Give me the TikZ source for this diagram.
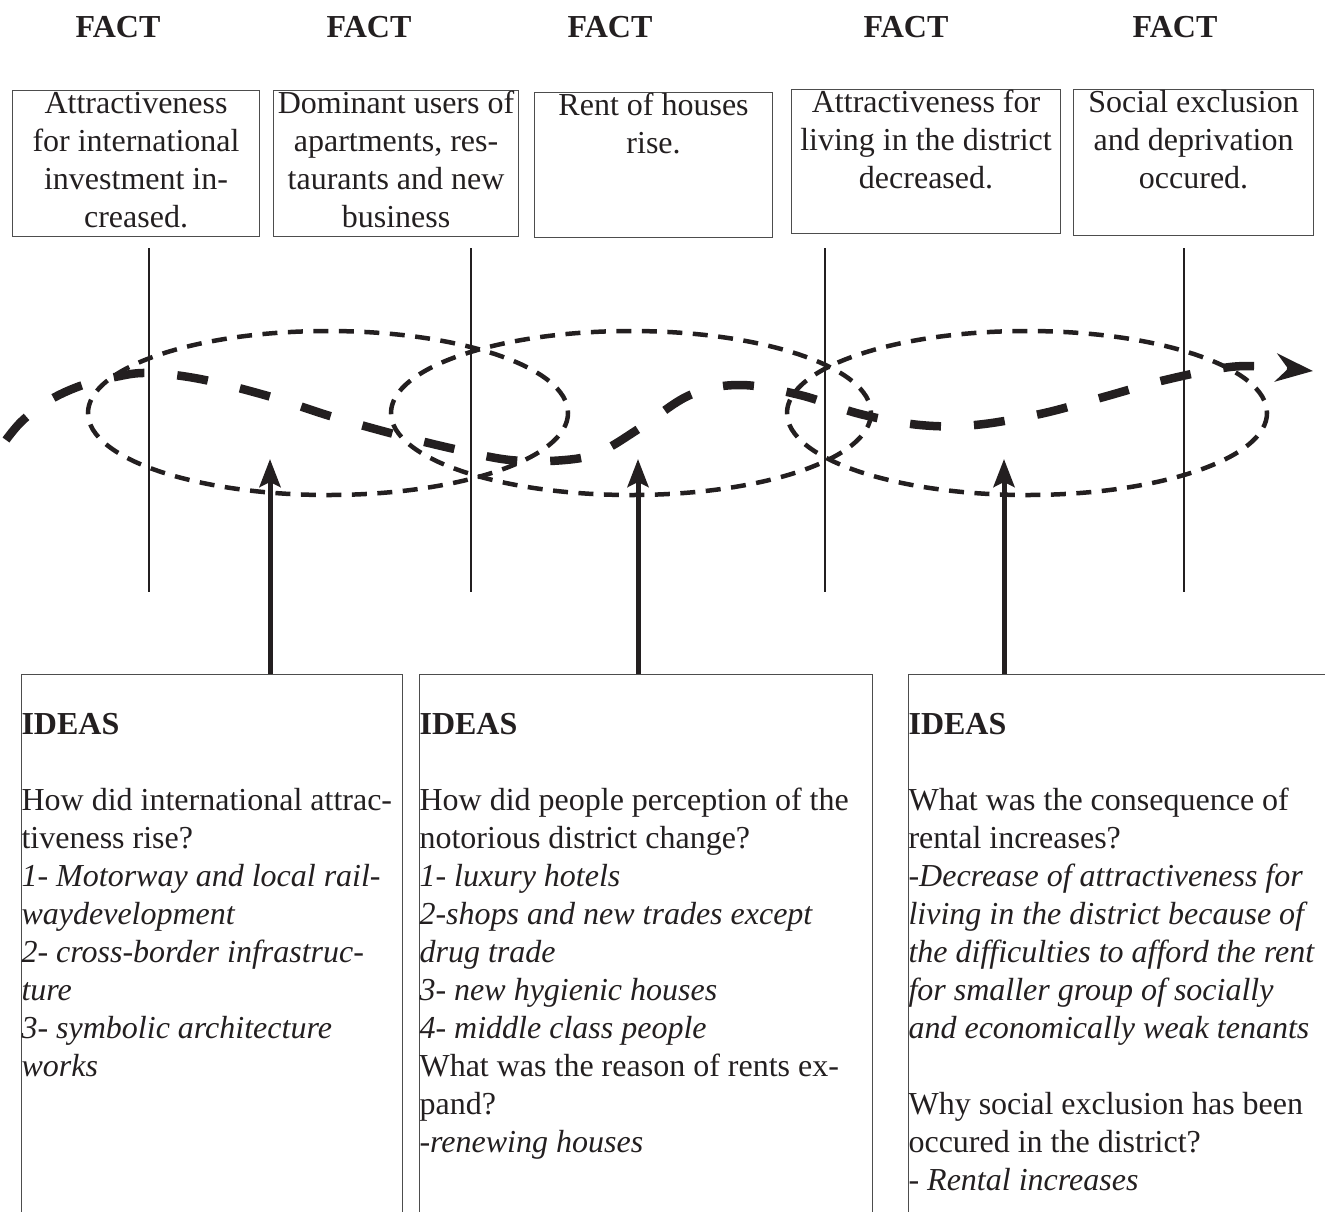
\documentclass[tikz,border=0pt]{standalone}
\usepackage{fontspec}
\setmainfont{Liberation Serif}
\usetikzlibrary{arrows.meta}
\definecolor{ink}{HTML}{231F20}
\definecolor{edge}{HTML}{4D4D4D}

% fixed-size box contents: facts centred, ideas flush left
\newcommand\factcontent[3]{\parbox[t][#2][t]{#1}{\centering\rule{0pt}{23pt}#3}}
\newcommand\ideacontent[3]{\parbox[t][#2][t]{#1}{\raggedright\hyphenpenalty=10000\rule{0pt}{60pt}\textbf{IDEAS}\\[38pt]#3}}

\begin{document}
\begin{tikzpicture}[x=1pt,y=-1pt,
  txt/.style={font=\fontsize{32}{38}\selectfont, text=ink},
  factlabel/.style={font=\fontsize{32}{38}\selectfont\bfseries, text=ink, anchor=base, inner sep=0pt},
  factbox/.style={draw=edge, line width=1.1pt, inner sep=0pt, anchor=north west, txt},
  ideabox/.style={draw=edge, line width=1.1pt, inner sep=0pt, anchor=north west, txt},
  divider/.style={draw=ink, line width=2pt},
  orbit/.style={draw=ink, line width=4.5pt, dash pattern=on 15pt off 10.5pt},
  flow/.style={draw=ink, line width=8.5pt, dash pattern=on 31pt off 33pt,
    -{Stealth[length=37pt,width=28pt,inset=12pt]}},
  feed/.style={draw=ink, line width=5pt, -{Stealth[length=28pt,width=21pt,inset=5pt]}},
]
\useasboundingbox (0,0) rectangle (1325,1211);
\clip (0,0) rectangle (1325,1211);

% headings
\node[factlabel] (h1) at (118,37) {FACT};
\node[factlabel] (h2) at (369,37) {FACT};
\node[factlabel] (h3) at (610,37) {FACT};
\node[factlabel] (h4) at (906,37) {FACT};
\node[factlabel] (h5) at (1175,37) {FACT};

% fact boxes
\node[factbox] (f1) at (12,90) {\factcontent{247pt}{146pt}{Attractiveness\\for international\\investment in-\\creased.}};
\node[factbox] (f2) at (273,90) {\factcontent{245pt}{146pt}{Dominant users of\\apartments, res-\\taurants and new\\business}};
\node[factbox] (f3) at (534,92) {\factcontent{238pt}{145pt}{Rent of houses\\rise.}};
\node[factbox] (f4) at (791,89) {\factcontent{269pt}{144pt}{Attractiveness for\\living in the district\\decreased.}};
\node[factbox] (f5) at (1073,89) {\factcontent{240pt}{146pt}{Social exclusion\\and deprivation\\occured.}};

% time dividers
\foreach \i/\x in {1/149,2/471,3/825,4/1184}{
  \coordinate (d\i t) at (\x,248);
  \coordinate (d\i b) at (\x,592);
}

% overlapping phases
\draw[orbit] (328,413) ellipse [x radius=240, y radius=82];
\draw[orbit] (631,413) ellipse [x radius=240, y radius=82];
\draw[orbit] (1027,413) ellipse [x radius=240, y radius=82];

\foreach \i in {1,...,4}{ \draw[divider] (d\i t) -- (d\i b); }

% development path
\coordinate (pathend) at (1313,371);
\draw[flow] plot[smooth, tension=0.6] coordinates {
  (6,440) (22,421) (48,401) (80,386) (115,377) (148,373) (200,379) (268,396)
  (330,416) (390,433) (450,448) (510,460) (565,460) (600,452) (640,428)
  (690,395) (740,385) (800,395) (860,414) (920,425) (975,425) (1040,414)
  (1100,398) (1165,380) (1230,367) (1270,367)} -- (pathend);

% idea boxes
\node[ideabox] (i1) at (21,674) {\ideacontent{381pt}{600pt}{How did international attrac-\\tiveness rise?\\\textit{1- Motorway and local rail-}\\\textit{waydevelopment}\\\textit{2- cross-border infrastruc-}\\\textit{ture}\\\textit{3- symbolic architecture}\\\textit{works}}};
\node[ideabox] (i2) at (419,674) {\ideacontent{453pt}{600pt}{How did people perception of the\\notorious district change?\\\textit{1- luxury hotels}\\\textit{2-shops and new trades except}\\\textit{drug trade}\\\textit{3- new hygienic houses}\\\textit{4- middle class people}\\What was the reason of rents ex-\\pand?\\\textit{-renewing houses}}};
\node[ideabox] (i3) at (908,674) {\ideacontent{440pt}{600pt}{What was the consequence of\\rental increases?\\\textit{-Decrease of attractiveness for}\\\textit{living in the district because of}\\\textit{the difficulties to afford the rent}\\\textit{for smaller group of socially}\\\textit{and economically weak tenants}\\[38pt]Why social exclusion has been\\occured in the district?\\\textit{- Rental increases}}};

% ideas feeding the phases
\coordinate (a1) at (270,459);
\coordinate (a2) at (638,459);
\coordinate (a3) at (1004,459);
\draw[feed] (i1.north -| a1) -- (a1);
\draw[feed] (i2.north -| a2) -- (a2);
\draw[feed] (i3.north -| a3) -- (a3);
\end{tikzpicture}
\end{document}
